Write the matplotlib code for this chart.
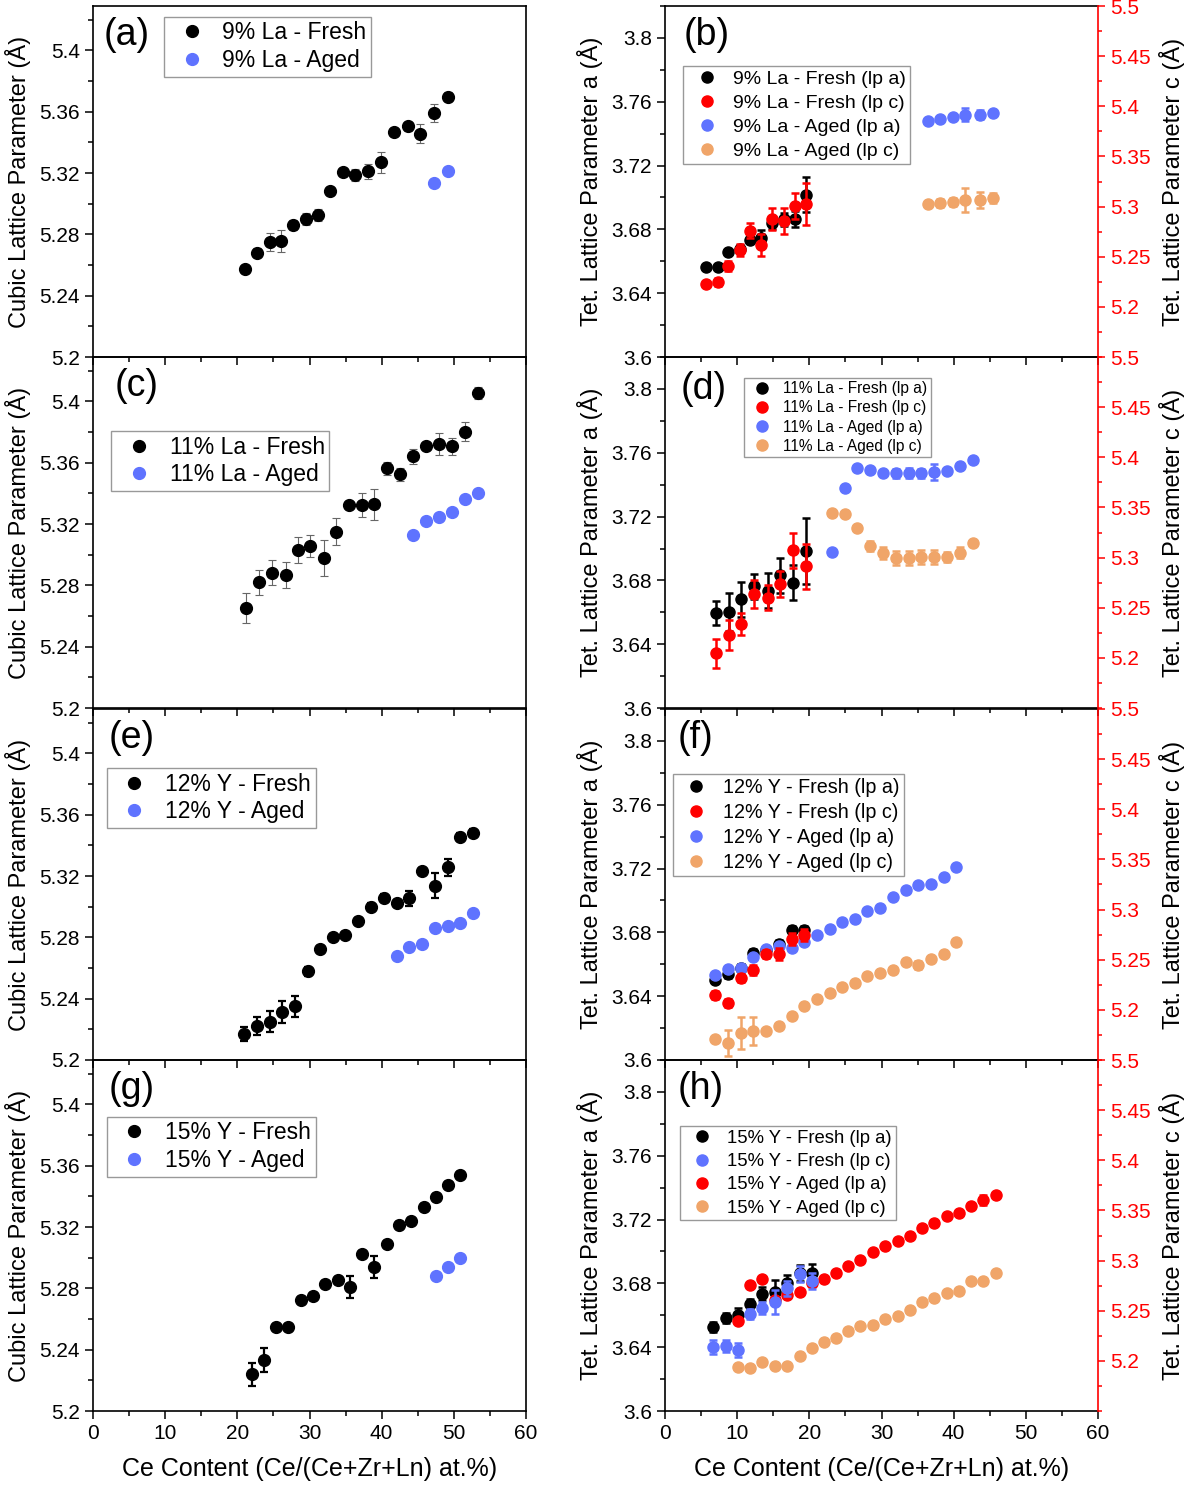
import matplotlib
matplotlib.use('Agg')
import matplotlib.pyplot as plt
from matplotlib.ticker import MultipleLocator, FixedLocator, FuncFormatter

plt.rcParams['font.family'] = ['Liberation Sans', 'DejaVu Sans']

BLUE = '#5f73ff'
RED = '#ff0000'
ORANGE = '#f0a569'

# ---------------- cubic panels (left column) ----------------
a_x = [21.1, 22.75, 24.46, 26.07, 27.78, 29.49, 31.2, 32.9, 34.6, 36.36, 38.1, 39.9, 41.67, 43.6, 45.36, 47.2, 49.15]
a_fresh = [5.2576, 5.268, 5.275, 5.2757, 5.2861, 5.2902, 5.2928, 5.308, 5.3204, 5.3187, 5.3211, 5.327, 5.3467, 5.3504, 5.3457, 5.359, 5.3698]
a_fresh_err = [0.002, 0.003, 0.006, 0.007, 0.003, 0.004, 0.004, 0.002, 0.002, 0.004, 0.005, 0.007, 0.002, 0.003, 0.006, 0.006, 0.003]
a_aged_x = [47.2, 49.15]
a_aged = [5.3137, 5.3215]

c_x = [21.2, 23.07, 24.8, 26.7, 28.4, 30.1, 32.0, 33.7, 35.5, 37.3, 39.0, 40.8, 42.6, 44.4, 46.2, 48.0, 49.8, 51.6, 53.3]
c_fresh = [5.2654, 5.282, 5.2883, 5.2868, 5.3032, 5.3056, 5.2979, 5.315, 5.3325, 5.3325, 5.3329, 5.3563, 5.3524, 5.3642, 5.3707, 5.372, 5.3707, 5.3803, 5.4057]
c_fresh_err = [0.0099, 0.008, 0.008, 0.0087, 0.0085, 0.0072, 0.012, 0.0087, 0.002, 0.008, 0.010, 0.004, 0.004, 0.005, 0.002, 0.0072, 0.0055, 0.0063, 0.004]
c_aged_x = [44.4, 46.2, 48.0, 49.8, 51.6, 53.3]
c_aged = [5.3132, 5.3222, 5.3246, 5.3281, 5.3362, 5.3406]

e_x = [20.9, 22.75, 24.46, 26.2, 28.06, 29.76, 31.47, 33.27, 34.98, 36.78, 38.58, 40.33, 42.09, 43.84, 45.6, 47.4, 49.15, 50.9, 52.7]
e_fresh = [5.2168, 5.2223, 5.2251, 5.2313, 5.235, 5.2579, 5.2726, 5.2804, 5.2813, 5.2907, 5.3001, 5.306, 5.3025, 5.3054, 5.3235, 5.3137, 5.3257, 5.3458, 5.3484]
e_fresh_err = [0.0044, 0.006, 0.0066, 0.007, 0.0068, 0.003, 0.002, 0.002, 0.002, 0.002, 0.002, 0.002, 0.002, 0.005, 0.002, 0.008, 0.0057, 0.002, 0.002]
e_aged_x = [42.09, 43.84, 45.6, 47.4, 49.15, 50.9, 52.7]
e_aged = [5.268, 5.2737, 5.2756, 5.2861, 5.2874, 5.2892, 5.2962]

g_x = [21.97, 23.63, 25.38, 27.09, 28.8, 30.46, 32.16, 33.9, 35.6, 37.3, 39.0, 40.7, 42.45, 44.1, 45.8, 47.5, 49.2, 50.9]
g_fresh = [5.2239, 5.2333, 5.2546, 5.2546, 5.2726, 5.2752, 5.283, 5.2852, 5.2809, 5.3026, 5.2939, 5.3091, 5.3215, 5.3239, 5.333, 5.3394, 5.3474, 5.3539]
g_fresh_err = [0.0073, 0.008, 0.002, 0.002, 0.002, 0.002, 0.002, 0.002, 0.007, 0.002, 0.007, 0.002, 0.002, 0.002, 0.002, 0.002, 0.002, 0.002]
g_aged_x = [47.5, 49.2, 50.9]
g_aged = [5.288, 5.2939, 5.2998]

# ---------------- tetragonal panels (right column) ----------------
b_fx = [5.74, 7.3, 8.76, 10.33, 11.79, 13.35, 14.87, 16.43, 18.0, 19.56]
b_fresh_a = [3.6564, 3.6564, 3.6658, 3.6679, 3.6735, 3.6748, 3.684, 3.6863, 3.6863, 3.7017]
b_fresh_a_err = [0.002, 0.002, 0.002, 0.002, 0.002, 0.005, 0.004, 0.004, 0.005, 0.011]
b_fresh_c = [5.2228, 5.2251, 5.241, 5.2566, 5.2758, 5.2615, 5.2874, 5.2857, 5.3006, 5.3023]
b_fresh_c_err = [0.003, 0.004, 0.005, 0.006, 0.0075, 0.011, 0.011, 0.013, 0.013, 0.021]
b_ax = [36.41, 38.13, 39.9, 41.63, 43.6, 45.4]
b_aged_a = [3.7477, 3.749, 3.7504, 3.7519, 3.7519, 3.7531]
b_aged_a_err = [0.001, 0.001, 0.001, 0.0042, 0.003, 0.001]
b_aged_c = [5.3029, 5.3036, 5.3049, 5.3062, 5.3062, 5.3082]
b_aged_c_err = [0.002, 0.004, 0.004, 0.012, 0.008, 0.005]

d_fx = [7.09, 8.87, 10.59, 12.4, 14.24, 15.96, 17.74, 19.5]
d_fresh_a = [3.6596, 3.66, 3.6683, 3.6763, 3.6736, 3.6832, 3.6786, 3.6987]
d_fresh_a_err = [0.0078, 0.012, 0.011, 0.008, 0.011, 0.011, 0.011, 0.0207]
d_fresh_c = [5.2046, 5.2228, 5.2337, 5.2634, 5.2598, 5.274, 5.3071, 5.2912]
d_fresh_c_err = [0.0145, 0.0145, 0.011, 0.014, 0.0125, 0.013, 0.017, 0.022]
d_ax = [23.1, 24.88, 26.66, 28.38, 30.2, 32.03, 33.75, 35.52, 37.3, 39.07, 40.85, 42.67]
d_aged_a = [3.6976, 3.7381, 3.7503, 3.7494, 3.7476, 3.7471, 3.7473, 3.7471, 3.7478, 3.7486, 3.7515, 3.7553]
d_aged_a_err = [0.001, 0.001, 0.001, 0.001, 0.001, 0.003, 0.003, 0.003, 0.005, 0.001, 0.001, 0.001]
d_aged_c = [5.3441, 5.3435, 5.3292, 5.312, 5.3044, 5.2998, 5.2998, 5.3005, 5.3005, 5.3005, 5.3051, 5.315]
d_aged_c_err = [0.002, 0.002, 0.002, 0.005, 0.006, 0.007, 0.007, 0.007, 0.007, 0.005, 0.005, 0.002]

f_fx = [6.94, 8.76, 10.49, 12.26, 13.98, 15.8, 17.53, 19.25]
f_fresh_a = [3.6504, 3.6537, 3.6579, 3.6673, 3.6687, 3.6729, 3.6817, 3.6817]
f_fresh_a_err = [0.002, 0.002, 0.002, 0.002, 0.002, 0.002, 0.002, 0.002]
f_fresh_c = [5.215, 5.2068, 5.2315, 5.2398, 5.2556, 5.2556, 5.2711, 5.2751]
f_fresh_c_err = [0.004, 0.004, 0.004, 0.005, 0.004, 0.006, 0.006, 0.006]
f_ax = [6.94, 8.76, 10.49, 12.26, 13.98, 15.8, 17.53, 19.25, 21.02, 22.8, 24.57, 26.29, 28.06, 29.79, 31.56, 33.33, 35.11, 36.83, 38.6, 40.32]
f_aged_a = [3.6531, 3.6569, 3.6579, 3.6646, 3.6694, 3.6714, 3.6704, 3.6742, 3.6781, 3.6819, 3.6867, 3.6881, 3.6933, 3.6954, 3.7021, 3.7066, 3.7094, 3.71, 3.7146, 3.721]
f_aged_a_err = [0.001] * 20
f_aged_c = [5.1705, 5.1672, 5.1771, 5.1787, 5.1787, 5.1843, 5.1936, 5.2041, 5.2107, 5.2167, 5.2226, 5.2266, 5.2338, 5.2365, 5.2398, 5.248, 5.2447, 5.2507, 5.2556, 5.2675]
f_aged_c_err = [0.002, 0.013, 0.016, 0.014, 0.002, 0.002, 0.002, 0.002, 0.002, 0.002, 0.002, 0.002, 0.002, 0.002, 0.002, 0.002, 0.004, 0.002, 0.002, 0.002]

h_fx = [6.68, 8.5, 10.17, 11.79, 13.51, 15.18, 16.95, 18.68, 20.4]
h_fresh_a = [3.6525, 3.6583, 3.6604, 3.6673, 3.6735, 3.6744, 3.6802, 3.6864, 3.6864]
h_fresh_a_err = [0.003, 0.003, 0.004, 0.003, 0.004, 0.008, 0.005, 0.005, 0.006]
h_fresh_c = [5.2136, 5.2146, 5.2113, 5.2467, 5.2523, 5.2589, 5.2722, 5.2864, 5.2798]
h_fresh_c_err = [0.007, 0.006, 0.007, 0.005, 0.006, 0.012, 0.007, 0.008, 0.008]
h_ax = [10.17, 11.79, 13.51, 15.18, 16.95, 18.68, 20.4, 22.07, 23.74, 25.4, 27.07, 28.8, 30.5, 32.24, 33.9, 35.63, 37.3, 39.02, 40.74, 42.41, 44.13, 45.8]
h_aged_a = [3.6562, 3.6792, 3.6827, 3.6698, 3.6729, 3.6744, 3.6802, 3.6829, 3.6864, 3.6912, 3.6946, 3.6996, 3.7035, 3.7066, 3.7098, 3.7146, 3.7181, 3.7223, 3.7244, 3.7285, 3.7323, 3.7352]
h_aged_a_err = [0.001] * 20 + [0.003, 0.001]
h_aged_c = [5.1937, 5.193, 5.1993, 5.1954, 5.1954, 5.2046, 5.2129, 5.2185, 5.2228, 5.2295, 5.2344, 5.2361, 5.2417, 5.245, 5.2506, 5.2583, 5.2632, 5.2675, 5.2698, 5.2794, 5.2801, 5.2874]
h_aged_c_err = [0.002] * 22

XLABEL = 'Ce Content (Ce/(Ce+Zr+Ln) at.%)'


def trim(v, pos):
    return ('%.3f' % v).rstrip('0').rstrip('.')


def put_series(ax, x, y, err, col, ms, lab, ecol=None, elw=1.8):
    if err is not None:
        ax.errorbar(x, y, yerr=err, fmt='none', ecolor=ecol or col, elinewidth=elw,
                    capsize=3, capthick=elw, zorder=2)
    line, = ax.plot(x, y, 'o', color=col, ms=ms, mec=col, label=lab, zorder=3, ls='none')
    return line


def style_x(ax, bottom):
    ax.set_xlim(0, 60)
    ax.xaxis.set_major_locator(MultipleLocator(10))
    ax.xaxis.set_minor_locator(MultipleLocator(5))
    ax.tick_params(axis='x', which='both', direction='out', top=False, labelbottom=bottom, labelsize=15)
    ax.tick_params(axis='x', which='major', length=6, width=1.1)
    ax.tick_params(axis='x', which='minor', length=3.5, width=1.1)
    if bottom:
        ax.set_xlabel(XLABEL, fontsize=18, labelpad=10)


def make_legend(ax, handles, xy, fs, spacing):
    leg = ax.legend(handles=handles, loc='upper left', bbox_to_anchor=xy, fontsize=fs,
                    frameon=True, fancybox=False, edgecolor='#999999', framealpha=1,
                    borderpad=0.2, handlelength=2.0, handletextpad=0.35, labelspacing=spacing,
                    borderaxespad=0, numpoints=1)
    leg.get_frame().set_linewidth(1.0)
    leg.set_zorder(10)


fig = plt.figure(figsize=(11.92, 14.9), dpi=100)
W = 433 / 1192
H = 351 / 1490
row_bottoms = [0.7604, 0.5248, 0.2886, 0.0530]
LEFT_X = 93 / 1192
RIGHT_X = 665 / 1192

cubic = [
    ('(a)', a_x, a_fresh, a_fresh_err, a_aged_x, a_aged, '9% La', (0.164, 0.969), 16.5, '#666666', 0.8, (0.025, 0.97)),
    ('(c)', c_x, c_fresh, c_fresh_err, c_aged_x, c_aged, '11% La', (0.042, 0.789), 16.5, '#666666', 0.8, (0.05, 0.97)),
    ('(e)', e_x, e_fresh, e_fresh_err, e_aged_x, e_aged, '12% Y', (0.032, 0.832), 16.5, 'black', 1.6, (0.035, 0.97)),
    ('(g)', g_x, g_fresh, g_fresh_err, g_aged_x, g_aged, '15% Y', (0.032, 0.838), 16.5, 'black', 1.6, (0.035, 0.97)),
]

for i, (letter, xf, yf, ef, xa, ya, name, lxy, lfs, ecol, elw, txy) in enumerate(cubic):
    ax = fig.add_axes([LEFT_X, row_bottoms[i], W, H])
    ax.patch.set_alpha(0)
    h1 = put_series(ax, xf, yf, ef, 'black', 8.5, name + ' - Fresh', ecol=ecol, elw=elw)
    h2 = put_series(ax, xa, ya, None, BLUE, 8.5, name + ' - Aged')
    ax.set_ylim(5.2, 5.429)
    ax.yaxis.set_major_locator(MultipleLocator(0.04))
    ax.yaxis.set_minor_locator(MultipleLocator(0.02))
    ax.yaxis.set_major_formatter(FuncFormatter(trim))
    ax.tick_params(axis='y', which='both', direction='out', right=False, labelsize=15)
    ax.tick_params(axis='y', which='major', length=6, width=1.1)
    ax.tick_params(axis='y', which='minor', length=3.5, width=1.1)
    style_x(ax, i == 3)
    for s in ax.spines.values():
        s.set_linewidth(1.2)
    ax.set_ylabel('Cubic Lattice Parameter (Å)', fontsize=17, labelpad=6)
    ax.text(txy[0], txy[1], letter, transform=ax.transAxes, fontsize=27, va='top', ha='left')
    make_legend(ax, [h1, h2], lxy, lfs, 0.2)

# each tet panel: letter, series list (x, y, err, colour, side, label), legend pos, font, spacing
tet = [
    ('(b)', [(b_fx, b_fresh_a, b_fresh_a_err, 'black', 'a', '9% La - Fresh (lp a)'),
             (b_fx, b_fresh_c, b_fresh_c_err, RED, 'c', '9% La - Fresh (lp c)'),
             (b_ax, b_aged_a, b_aged_a_err, BLUE, 'a', '9% La - Aged (lp a)'),
             (b_ax, b_aged_c, b_aged_c_err, ORANGE, 'c', '9% La - Aged (lp c)')],
     (0.042, 0.829), 14, 0.34, (0.042, 0.97)),
    ('(d)', [(d_fx, d_fresh_a, d_fresh_a_err, 'black', 'a', '11% La - Fresh (lp a)'),
             (d_fx, d_fresh_c, d_fresh_c_err, RED, 'c', '11% La - Fresh (lp c)'),
             (d_ax, d_aged_a, d_aged_a_err, BLUE, 'a', '11% La - Aged (lp a)'),
             (d_ax, d_aged_c, d_aged_c_err, ORANGE, 'c', '11% La - Aged (lp c)')],
     (0.182, 0.94), 11.2, 0.27, (0.035, 0.96)),
    ('(f)', [(f_fx, f_fresh_a, f_fresh_a_err, 'black', 'a', '12% Y - Fresh (lp a)'),
             (f_fx, f_fresh_c, f_fresh_c_err, RED, 'c', '12% Y - Fresh (lp c)'),
             (f_ax, f_aged_a, f_aged_a_err, BLUE, 'a', '12% Y - Aged (lp a)'),
             (f_ax, f_aged_c, f_aged_c_err, ORANGE, 'c', '12% Y - Aged (lp c)')],
     (0.018, 0.815), 14.2, 0.31, (0.03, 0.97)),
    ('(h)', [(h_fx, h_fresh_a, h_fresh_a_err, 'black', 'a', '15% Y - Fresh (lp a)'),
             (h_fx, h_fresh_c, h_fresh_c_err, BLUE, 'c', '15% Y - Fresh (lp c)'),
             (h_ax, h_aged_a, h_aged_a_err, RED, 'a', '15% Y - Aged (lp a)'),
             (h_ax, h_aged_c, h_aged_c_err, ORANGE, 'c', '15% Y - Aged (lp c)')],
     (0.035, 0.812), 13.3, 0.34, (0.03, 0.97)),
]

for i, (letter, series, lxy, lfs, lsp, txy) in enumerate(tet):
    ax = fig.add_axes([RIGHT_X, row_bottoms[i], W, H])
    ax.patch.set_alpha(0)
    ax2 = ax.twinx()
    handles = []
    for x, y, err, col, side, lab in series:
        target = ax if side == 'a' else ax2
        handles.append(put_series(target, x, y, err, col, 8, lab))

    ax.set_ylim(3.6, 3.82)
    ax.yaxis.set_major_locator(MultipleLocator(0.04))
    ax.yaxis.set_minor_locator(MultipleLocator(0.02))
    ax.yaxis.set_major_formatter(FuncFormatter(trim))
    ax.tick_params(axis='y', which='both', direction='out', right=False, labelsize=15)
    ax.tick_params(axis='y', which='major', length=6, width=1.1)
    ax.tick_params(axis='y', which='minor', length=3.5, width=1.1)
    style_x(ax, i == 3)
    for s in ax.spines.values():
        s.set_linewidth(1.2)
    ax.spines['right'].set_visible(False)
    ax.set_ylabel('Tet. Lattice Parameter a (Å)', fontsize=17, labelpad=6)

    ax2.set_ylim(5.15, 5.5)
    ax2.yaxis.set_major_locator(FixedLocator([5.2, 5.25, 5.3, 5.35, 5.4, 5.45, 5.5]))
    ax2.yaxis.set_minor_locator(FixedLocator([5.15, 5.175, 5.225, 5.275, 5.325, 5.375, 5.425, 5.475]))
    ax2.yaxis.set_major_formatter(FuncFormatter(trim))
    ax2.tick_params(axis='y', which='both', direction='out', colors=RED, labelsize=15)
    ax2.tick_params(axis='y', which='major', length=5, width=1.1)
    ax2.tick_params(axis='y', which='minor', length=3, width=1.1)
    for s in ax2.spines.values():
        s.set_visible(False)
    ax2.spines['right'].set_visible(True)
    ax2.spines['right'].set_color(RED)
    ax2.spines['right'].set_linewidth(1.2)
    ax2.set_ylabel('Tet. Lattice Parameter c (Å)', fontsize=17, labelpad=6, color='black')

    ax2.text(txy[0], txy[1], letter, transform=ax.transAxes, fontsize=27, va='top', ha='left')
    make_legend(ax2, handles, lxy, lfs, lsp)

fig.savefig('out.png', dpi=100)
